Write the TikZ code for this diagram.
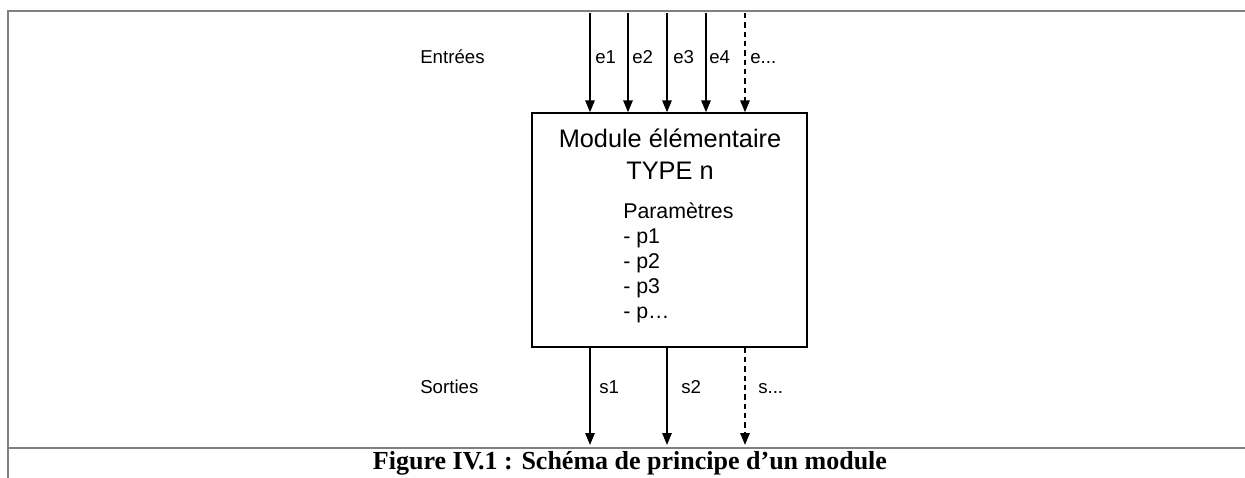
\documentclass[tikz,border=0pt]{standalone}
\usepackage{fontspec}
\setmainfont{Liberation Sans}
\newfontfamily\capfont{Liberation Serif}
\usetikzlibrary{arrows.meta,positioning,calc}
\definecolor{FrameGray}{HTML}{808080}

\begin{document}
\begin{tikzpicture}[
    x=0.75pt, y=-0.75pt,
    framerule/.style={
      draw=FrameGray,
      line width=1.5pt
    },
    modbox/.style={
      draw,
      line width=1pt,
      minimum width=206.25pt,
      minimum height=175.5pt,
      inner sep=0pt
    },
    flow/.style={
      -{Triangle[length=9pt,width=7pt]},
      line width=1.5pt
    },
    flowmore/.style={
      flow,
      dash pattern=on 4pt off 3pt
    },
    sig/.style={
      font=\fontsize{14}{16}\selectfont,
      anchor=base west,
      inner sep=0pt
    }]

    \useasboundingbox (0,0) rectangle (1245,478);

    % Frame of the figure
    \coordinate (frametl) at (7.5,11);
    \coordinate (frametr) at (1245,11);
    \coordinate (framebl) at (7.5,478);
    \coordinate (capl) at (7.5,448);
    \coordinate (capr) at (1245,448);
    \draw[framerule] (frametr) -- (frametl) -- (framebl);
    \draw[framerule] (capl) -- (capr);

    % Module
    \node[modbox] (mod) at (669.5,230) {};
    \node[font=\fontsize{19}{24}\selectfont,align=center,inner sep=0pt] (modtitle) at (670,154)
      {Module élémentaire\\TYPE n};
    \node[font=\fontsize{16}{18.75}\selectfont,align=left,anchor=west,inner sep=0pt] (modparam) at (623,262.5)
      {Paramètres\\- p1\\- p2\\- p3\\- p\dots};

    % Inputs
    \node[sig] (entrees) at (420,63.5) {Entrées};
    \coordinate (in1) at (590,13);
    \coordinate (in2) at (628,13);
    \coordinate (in3) at (667,13);
    \coordinate (in4) at (706,13);
    \coordinate (in5) at (745,13);
    \draw[flow] (in1) -- (in1 |- mod.north);
    \draw[flow] (in2) -- (in2 |- mod.north);
    \draw[flow] (in3) -- (in3 |- mod.north);
    \draw[flow] (in4) -- (in4 |- mod.north);
    \draw[flowmore] (in5) -- (in5 |- mod.north);
    \node[sig] (le1) at (595,63.5) {e1};
    \node[sig] (le2) at (632,63.5) {e2};
    \node[sig] (le3) at (673,63.5) {e3};
    \node[sig] (le4) at (709,63.5) {e4};
    \node[sig] (le5) at (750,63.5) {e...};

    % Outputs
    \node[sig] (sorties) at (420,393) {Sorties};
    \coordinate (out1) at (590,445);
    \coordinate (out2) at (667,445);
    \coordinate (out3) at (745,445);
    \draw[flow] (out1 |- mod.south) -- (out1);
    \draw[flow] (out2 |- mod.south) -- (out2);
    \draw[flowmore] (out3 |- mod.south) -- (out3);
    \node[sig] (ls1) at (599,393) {s1};
    \node[sig] (ls2) at (681,393) {s2};
    \node[sig] (ls3) at (758,393) {s...};

    % Caption
    \node[font=\capfont\bfseries\fontsize{19.5}{22}\selectfont,inner sep=0pt] (caption) at (630,463)
      {Figure IV.1 : Schéma de principe d’un module};
  \end{tikzpicture}
\end{document}
